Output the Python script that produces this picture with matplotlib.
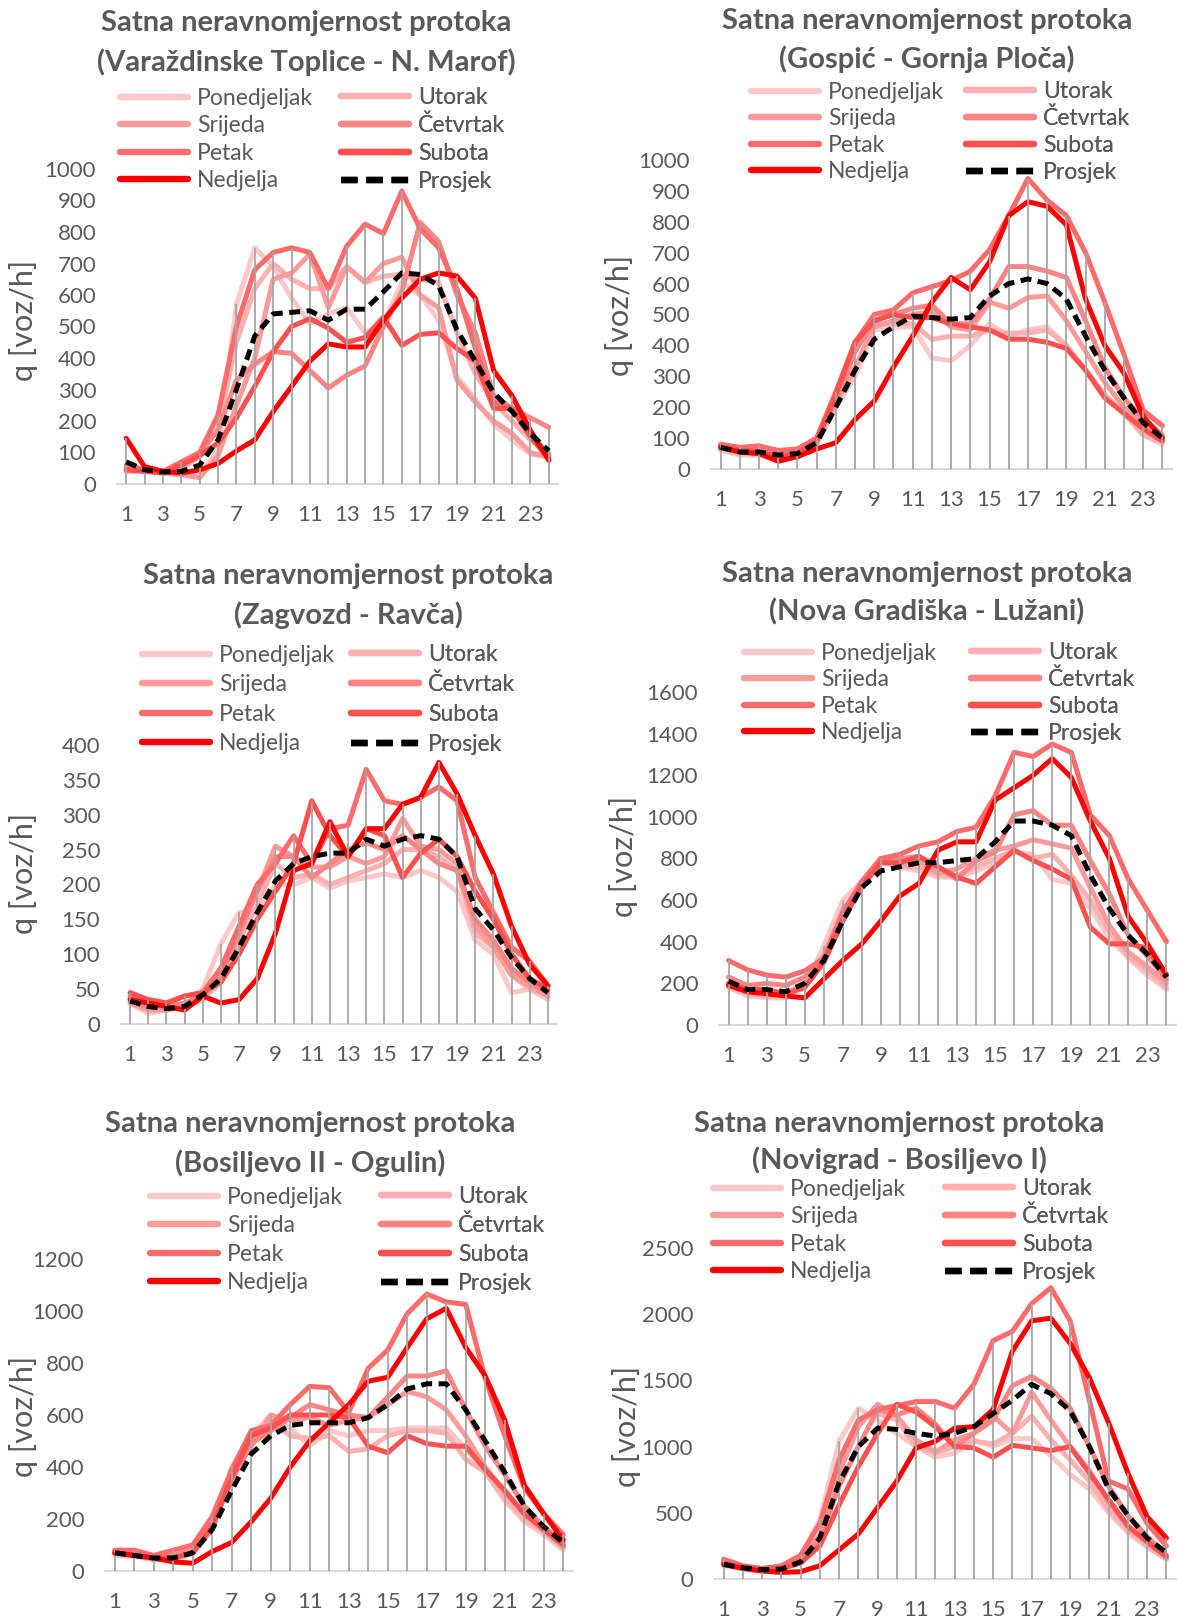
import matplotlib
matplotlib.use('Agg')
import matplotlib.pyplot as plt

plt.rcParams['font.family'] = ['Lato', 'DejaVu Sans']

W, H = 1177, 1620
GREY = '#595959'

hours = list(range(1, 25))
days = ['Ponedjeljak', 'Utorak', 'Srijeda', 'Četvrtak', 'Petak', 'Subota', 'Nedjelja']
avg_label = 'Prosjek'
day_colors = ['#ffc8c8', '#ffb0b0', '#ff9a9a', '#ff8484', '#ff6a6a', '#ff4f4f', '#ff0000']

# rows: Pon, Uto, Sri, Cet, Pet, Sub, Ned (veh/h)
varazdinske = [
    [40, 40, 35, 30, 25, 110, 570, 750, 690, 590, 510, 540, 560, 480, 510, 640, 600, 520, 340, 270, 190, 140, 95, 85],
    [50, 45, 40, 45, 90, 180, 450, 620, 700, 650, 620, 620, 690, 640, 660, 665, 650, 640, 480, 350, 260, 200, 140, 100],
    [40, 45, 35, 30, 20, 90, 250, 400, 650, 670, 730, 560, 690, 640, 700, 720, 600, 560, 330, 260, 200, 160, 100, 85],
    [55, 45, 40, 55, 100, 170, 330, 380, 420, 415, 360, 305, 345, 375, 500, 610, 830, 770, 600, 480, 280, 240, 210, 180],
    [60, 45, 40, 70, 100, 220, 500, 680, 735, 750, 735, 620, 755, 825, 795, 930, 810, 750, 620, 430, 260, 240, 160, 90],
    [45, 40, 35, 60, 90, 130, 210, 310, 420, 500, 525, 495, 450, 465, 530, 440, 475, 480, 430, 390, 240, 240, 150, 80],
    [145, 55, 40, 35, 45, 65, 105, 140, 230, 310, 390, 445, 435, 435, 520, 590, 650, 670, 660, 590, 360, 280, 170, 75],
]
varazdinske_avg = [70, 45, 38, 40, 60, 140, 300, 470, 540, 545, 550, 520, 555, 555, 610, 670, 665, 630, 490, 390, 290, 230, 160, 105]

gospic = [
    [60, 45, 45, 30, 40, 80, 200, 300, 450, 460, 460, 360, 350, 400, 470, 430, 450, 460, 400, 320, 240, 180, 110, 80],
    [65, 50, 50, 35, 45, 85, 210, 320, 470, 470, 470, 420, 430, 430, 450, 440, 440, 450, 400, 320, 240, 180, 110, 90],
    [70, 60, 55, 40, 50, 90, 220, 330, 460, 480, 500, 510, 460, 450, 540, 520, 555, 560, 480, 380, 280, 200, 140, 100],
    [75, 60, 60, 45, 55, 100, 220, 380, 480, 500, 520, 530, 470, 470, 550, 655, 655, 640, 620, 480, 330, 230, 160, 110],
    [80, 70, 75, 60, 65, 100, 250, 410, 500, 515, 570, 590, 610, 640, 710, 820, 940, 870, 820, 700, 540, 370, 190, 140],
    [70, 60, 55, 40, 50, 90, 240, 410, 480, 500, 490, 490, 470, 460, 450, 420, 420, 410, 390, 320, 230, 180, 130, 90],
    [70, 55, 50, 25, 40, 65, 85, 160, 220, 330, 430, 540, 620, 580, 670, 820, 865, 850, 790, 550, 400, 310, 170, 100],
]
gospic_avg = [70, 55, 55, 45, 50, 85, 200, 320, 420, 460, 495, 490, 485, 490, 560, 600, 615, 600, 550, 430, 320, 230, 150, 100]

zagvozd = [
    [30, 15, 20, 25, 50, 115, 160, 160, 200, 200, 210, 195, 205, 210, 215, 210, 220, 210, 190, 120, 100, 45, 50, 35],
    [30, 20, 20, 25, 35, 60, 120, 170, 230, 210, 215, 200, 210, 220, 230, 250, 250, 240, 220, 130, 110, 70, 50, 40],
    [30, 20, 20, 25, 40, 80, 140, 190, 255, 240, 225, 225, 240, 230, 240, 295, 255, 250, 230, 140, 110, 70, 55, 40],
    [35, 25, 25, 30, 40, 70, 130, 190, 240, 240, 210, 230, 250, 260, 250, 270, 250, 230, 220, 150, 120, 80, 60, 45],
    [40, 35, 30, 40, 45, 80, 140, 200, 230, 270, 230, 280, 285, 365, 320, 315, 325, 340, 320, 210, 160, 110, 90, 55],
    [45, 35, 30, 40, 45, 60, 100, 150, 190, 230, 320, 270, 240, 280, 270, 210, 245, 265, 240, 190, 150, 100, 65, 50],
    [35, 30, 25, 20, 40, 30, 35, 65, 130, 220, 230, 290, 240, 280, 280, 315, 325, 375, 330, 270, 215, 140, 85, 55],
]
zagvozd_avg = [33, 25, 22, 25, 42, 65, 110, 160, 205, 230, 240, 245, 245, 265, 255, 265, 270, 265, 240, 165, 135, 95, 65, 45]

gradiska = [
    [180, 140, 130, 130, 180, 380, 600, 690, 800, 760, 740, 710, 710, 740, 780, 830, 820, 700, 680, 560, 420, 320, 240, 170],
    [190, 150, 140, 140, 200, 340, 560, 660, 790, 760, 760, 720, 720, 760, 800, 840, 800, 820, 720, 600, 450, 330, 260, 180],
    [200, 160, 160, 150, 200, 300, 530, 660, 780, 770, 790, 730, 750, 800, 840, 860, 890, 870, 850, 660, 480, 350, 280, 200],
    [230, 190, 200, 190, 230, 300, 500, 680, 800, 800, 810, 760, 700, 790, 830, 1010, 1030, 960, 960, 790, 630, 430, 330, 220],
    [310, 265, 240, 230, 260, 320, 540, 690, 800, 820, 860, 880, 930, 950, 1100, 1310, 1290, 1350, 1310, 1010, 910, 700, 550, 400],
    [200, 170, 170, 150, 180, 300, 500, 670, 780, 780, 810, 760, 710, 680, 760, 840, 790, 750, 700, 470, 390, 390, 370, 240],
    [190, 160, 150, 140, 130, 220, 310, 390, 500, 620, 680, 840, 880, 880, 1080, 1140, 1200, 1280, 1190, 980, 800, 520, 390, 240],
]
gradiska_avg = [210, 170, 170, 160, 200, 310, 500, 660, 740, 760, 780, 780, 790, 800, 880, 980, 980, 960, 910, 720, 560, 430, 340, 230]

ogulin = [
    [60, 55, 45, 45, 65, 160, 400, 520, 600, 550, 480, 540, 520, 540, 540, 550, 550, 550, 470, 380, 270, 190, 140, 80],
    [65, 60, 45, 50, 70, 160, 380, 500, 580, 520, 510, 520, 460, 470, 520, 540, 540, 530, 430, 380, 280, 200, 150, 90],
    [70, 60, 45, 50, 70, 170, 360, 480, 600, 580, 590, 560, 580, 590, 640, 690, 670, 620, 520, 400, 300, 220, 160, 90],
    [70, 65, 50, 60, 80, 180, 350, 490, 540, 590, 640, 620, 600, 590, 670, 750, 750, 770, 620, 480, 370, 250, 170, 110],
    [80, 80, 60, 80, 100, 210, 390, 540, 560, 640, 710, 705, 610, 780, 850, 990, 1065, 1035, 1025, 740, 520, 320, 220, 140],
    [70, 60, 50, 50, 70, 170, 360, 520, 550, 600, 600, 600, 590, 480, 455, 520, 490, 480, 480, 390, 310, 220, 160, 100],
    [70, 60, 50, 35, 30, 75, 110, 190, 280, 400, 500, 570, 640, 730, 745, 860, 970, 1010, 860, 750, 580, 330, 220, 120],
]
ogulin_avg = [70, 60, 50, 50, 70, 160, 310, 450, 520, 560, 570, 570, 570, 590, 640, 700, 720, 720, 620, 500, 380, 250, 170, 110]

novigrad = [
    [100, 80, 60, 70, 170, 450, 1040, 1290, 1200, 1100, 1000, 920, 950, 1050, 1000, 1060, 1060, 930, 790, 680, 500, 350, 240, 150],
    [110, 80, 70, 80, 140, 330, 850, 1200, 1250, 1200, 1000, 950, 1000, 1040, 1020, 1100, 1230, 1050, 900, 740, 520, 370, 250, 150],
    [120, 90, 70, 90, 160, 330, 800, 1150, 1320, 1230, 1050, 960, 1050, 1100, 1230, 1100, 1410, 1200, 1000, 820, 580, 400, 280, 160],
    [130, 90, 70, 90, 150, 300, 700, 1000, 1280, 1240, 1290, 1170, 1000, 1100, 1200, 1460, 1530, 1440, 1290, 1000, 700, 480, 320, 180],
    [150, 100, 80, 100, 180, 420, 900, 1200, 1280, 1310, 1340, 1340, 1290, 1470, 1800, 1870, 2080, 2200, 1950, 1350, 740, 680, 420, 250],
    [120, 90, 70, 80, 120, 250, 560, 850, 1100, 1320, 1260, 1150, 1000, 990, 920, 1010, 990, 970, 1000, 800, 600, 400, 280, 170],
    [110, 80, 60, 50, 55, 100, 220, 340, 540, 740, 990, 1040, 1140, 1150, 1280, 1720, 1950, 1970, 1780, 1520, 1180, 800, 470, 310],
]
novigrad_avg = [110, 85, 70, 75, 130, 310, 730, 1000, 1140, 1130, 1100, 1080, 1100, 1150, 1250, 1350, 1470, 1400, 1270, 1000, 680, 480, 310, 200]

# layout in pixels of the 1177x1620 picture
panels = [
    dict(name='(Varaždinske Toplice - N. Marof)', data=varazdinske, avg=varazdinske_avg,
         ymax=1000, ystep=100, box=(117, 169, 558, 484), title=(306, 23, 62),
         leg=(120, 99, 27, 221), ylab=(23, 320)),
    dict(name='(Gospić - Gornja Ploča)', data=gospic, avg=gospic_avg,
         ymax=1000, ystep=100, box=(711, 160, 1172, 469), title=(927, 21, 59),
         leg=(751, 93, 26, 215), ylab=(620, 315)),
    dict(name='(Zagvozd - Ravča)', data=zagvozd, avg=zagvozd_avg,
         ymax=400, ystep=50, box=(121, 745, 557, 1024), title=(348, 576, 615),
         leg=(142, 656, 29, 209), ylab=(23, 873)),
    dict(name='(Nova Gradiška - Lužani)', data=gradiska, avg=gradiska_avg,
         ymax=1600, ystep=200, box=(719, 692, 1176, 1025), title=(927, 574, 612),
         leg=(744, 654, 26, 227), ylab=(623, 856)),
    dict(name='(Bosiljevo II - Ogulin)', data=ogulin, avg=ogulin_avg,
         ymax=1200, ystep=200, box=(105, 1259, 573, 1571), title=(310, 1124, 1163),
         leg=(150, 1198, 28, 231), ylab=(23, 1416)),
    dict(name='(Novigrad - Bosiljevo I)', data=novigrad, avg=novigrad_avg,
         ymax=2500, ystep=500, box=(714, 1248, 1176, 1579), title=(899, 1124, 1160),
         leg=(713, 1190, 27, 232), ylab=(627, 1426)),
]

LEG_FS = 16.5
fs_px = LEG_FS * 100 / 72

fig = plt.figure(figsize=(W / 100, H / 100), dpi=100)

for p in panels:
    l, t, r, b = p['box']
    ax = fig.add_axes([l / W, 1 - b / H, (r - l) / W, (b - t) / H])
    handles = []
    for day, col, vals in zip(days, day_colors, p['data']):
        ln, = ax.plot(hours, vals, color=col, lw=3.6, label=day, zorder=2,
                      solid_joinstyle='round', solid_capstyle='round')
        handles.append(ln)
    # drop lines from the highest value at every hour
    tops = [max(col) for col in zip(*p['data'], p['avg'])]
    ax.vlines(hours, 0, tops, color='#a6a6a6', lw=1.3, zorder=3)
    av, = ax.plot(hours, p['avg'], color='black', lw=3.6, ls=(0, (2.2, 1.3)),
                  label=avg_label, zorder=4)
    handles.append(av)

    ax.set_xlim(0.5, 24.5)
    ax.set_ylim(0, p['ymax'])
    ax.set_xticks(hours[::2])
    ax.set_yticks(range(0, p['ymax'] + 1, p['ystep']))
    for s in ['top', 'right', 'left']:
        ax.spines[s].set_visible(False)
    ax.spines['bottom'].set_color('#d9d9d9')
    ax.spines['bottom'].set_linewidth(1.5)
    ax.tick_params(length=0, labelsize=16, colors=GREY)
    ax.tick_params(axis='x', pad=15)
    ax.tick_params(axis='y', pad=15)
    ax.patch.set_alpha(0)

    tx, ty1, ty2 = p['title']
    fig.text(tx / W, 1 - ty1 / H, 'Satna neravnomjernost protoka', ha='center', va='center',
             fontsize=21, fontweight='bold', color=GREY)
    fig.text(tx / W, 1 - ty2 / H, p['name'], ha='center', va='center',
             fontsize=21, fontweight='bold', color=GREY)

    yx, yy = p['ylab']
    fig.text(yx / W, 1 - yy / H, 'q [voz/h]', rotation=90, ha='center', va='center',
             fontsize=22, color=GREY)

    lx, ly, dy, dx = p['leg']
    cy = ly + 1.5 * dy
    spacing = max((dy - 0.89 * fs_px) / fs_px, 0.05)
    for k in range(2):
        hs = handles[k::2]
        leg = ax.legend(handles=hs, labels=[h.get_label() for h in hs],
                        loc='center left', bbox_to_anchor=((lx + k * dx) / W, 1 - cy / H),
                        bbox_transform=fig.transFigure, frameon=False, fontsize=LEG_FS,
                        handlelength=2.95, handletextpad=0.42, borderpad=0, borderaxespad=0,
                        labelspacing=spacing, labelcolor=GREY)
        for lh in leg.get_lines():
            lh.set_linewidth(4.6)
            if lh.get_label() == avg_label or lh.get_color() == 'black':
                lh.set_linestyle((0, (2.6, 1.35)))
        ax.add_artist(leg)

fig.savefig('out.png', dpi=100)
